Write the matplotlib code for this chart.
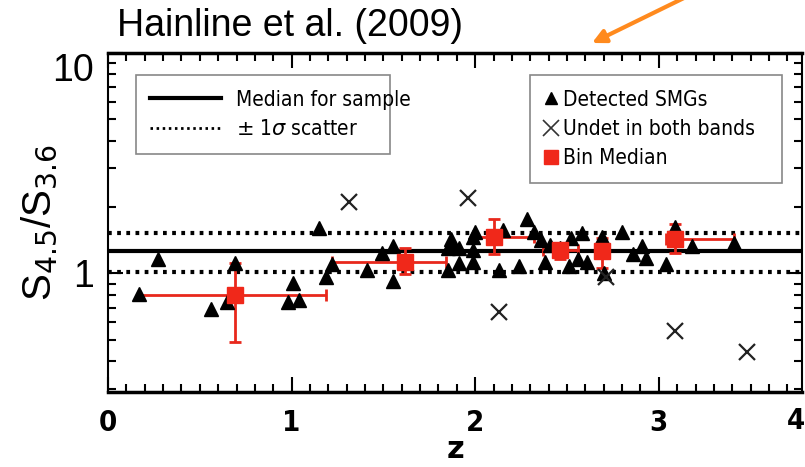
import matplotlib
matplotlib.use("Agg")
from matplotlib import pyplot as plt
from matplotlib.lines import Line2D
from matplotlib.ticker import MultipleLocator, LogLocator, NullFormatter, FixedLocator
import numpy as np

# detected SMGs (triangles)
det_z = [0.17, 0.27, 0.56, 0.65, 0.69, 0.98, 1.01, 1.04, 1.15, 1.19, 1.22, 1.41, 1.49, 1.55, 1.55,
         1.85, 1.85, 1.87, 1.88, 1.91, 1.91, 1.99, 1.99, 1.99, 2.00, 2.13, 2.15, 2.24, 2.28, 2.32,
         2.36, 2.38, 2.41, 2.46, 2.51, 2.52, 2.56, 2.58, 2.61, 2.69, 2.70, 2.80, 2.86, 2.91, 2.93,
         3.04, 3.09, 3.18, 3.41]
det_ratio = [0.81, 1.16, 0.69, 0.74, 1.12, 0.74, 0.91, 0.76, 1.61, 0.96, 1.10, 1.04, 1.24, 1.33, 0.92,
             1.31, 1.04, 1.43, 1.33, 1.31, 1.12, 1.47, 1.28, 1.13, 1.55, 1.04, 1.58, 1.08, 1.76, 1.55,
             1.42, 1.13, 1.35, 1.30, 1.08, 1.45, 1.16, 1.53, 1.13, 1.47, 1.01, 1.55, 1.22, 1.33, 1.18,
             1.10, 1.63, 1.33, 1.38]

# undetected in both bands (crosses)
undet_z = [1.31, 1.96, 2.13, 2.71, 3.09, 3.48]
undet_ratio = [2.12, 2.21, 0.67, 0.96, 0.55, 0.44]

# bin medians with ranges
bin_z = [0.69, 1.62, 2.10, 2.46, 2.69, 3.09]
bin_ratio = [0.80, 1.13, 1.47, 1.28, 1.26, 1.43]
bin_z_lo = [0.17, 1.22, 1.99, 2.37, 2.67, 3.04]
bin_z_hi = [1.19, 1.84, 2.32, 2.56, 2.72, 3.41]
bin_ratio_lo = [0.49, 0.99, 1.22, 1.16, 1.06, 1.24]
bin_ratio_hi = [1.12, 1.31, 1.76, 1.35, 1.45, 1.67]

median_ratio = 1.27
scatter_lo = 1.02
scatter_hi = 1.53

NARROW = ["Liberation Sans Narrow", "DejaVu Sans"]

W, H = 805, 467
fig = plt.figure(figsize=(W / 100, H / 100), dpi=100)
ax = fig.add_axes([108 / W, 1 - 392 / H, 694 / W, 339 / H])

ax.set_yscale("log")
ax.set_xlim(0, 3.78)
ax.set_ylim(0.29, 10)

# median and scatter lines
ax.axhline(median_ratio, color="black", lw=3, zorder=2)
for v in (scatter_lo, scatter_hi):
    ax.axhline(v, color="black", lw=3, ls=(0, (0.9, 1.3)), zorder=2)

# bin medians
bz = np.array(bin_z)
br = np.array(bin_ratio)
xerr = [bz - np.array(bin_z_lo), np.array(bin_z_hi) - bz]
yerr = [br - np.array(bin_ratio_lo), np.array(bin_ratio_hi) - br]
ax.errorbar(bz, br, xerr=xerr, yerr=yerr, fmt="none", ecolor="#e8281c",
            elinewidth=2, capsize=4, capthick=2, zorder=3)

ax.plot(det_z, det_ratio, "^", color="black", ms=10, mec="black", zorder=4)
ax.plot(undet_z, undet_ratio, "x", color="#222222", ms=11, mew=1.6, zorder=4)
ax.plot(bz, br, "s", color="#f0281a", ms=12, zorder=5)

# ticks
ax.xaxis.set_major_locator(FixedLocator([0, 1, 2, 3]))
ax.xaxis.set_minor_locator(MultipleLocator(0.1))
ax.yaxis.set_minor_locator(LogLocator(base=10, subs=np.arange(2, 10)))
ax.yaxis.set_minor_formatter(NullFormatter())
ax.set_yticks([1, 10])
ax.set_yticklabels(["1", "10"])
ax.tick_params(which="both", direction="in", top=True, right=True, width=1.5)
ax.tick_params(which="major", length=11)
ax.tick_params(which="minor", length=6)
ax.tick_params(axis="x", which="major", pad=12, labelsize=21)
ax.tick_params(axis="y", which="major", pad=10, labelsize=27)
for lab in ax.get_xticklabels():
    lab.set_fontweight("bold")
    lab.set_family(NARROW)
    lab.set_fontstretch("condensed")
for lab in ax.get_yticklabels():
    lab.set_family(["Liberation Sans", "DejaVu Sans"])
ax.get_yticklabels()[1].set_va("top")
ax.text(0.992, -0.085, "4", transform=ax.transAxes, ha="center", va="center",
        fontsize=21, fontweight="bold", family=NARROW, fontstretch="condensed")

for side in ("top", "bottom"):
    ax.spines[side].set_linewidth(2.5)
for side in ("left", "right"):
    ax.spines[side].set_linewidth(1.5)

ax.set_xlabel("z", fontsize=22, fontweight="bold", labelpad=-1)
ax.set_ylabel(r"S$_{4.5}$/S$_{3.6}$", fontsize=29,
              family=["Liberation Sans", "DejaVu Sans"])
ax.yaxis.set_label_coords(-0.07, 0.5)

# legends
leg_font = {"family": NARROW, "size": 15, "stretch": "condensed"}
h1 = [Line2D([], [], color="black", lw=3),
      Line2D([], [], color="black", lw=2, ls=(0, (0.9, 1.3)))]
leg1 = ax.legend(h1, ["Median for sample", r"$\pm$ 1$\sigma$ scatter"],
                 loc="upper left", bbox_to_anchor=(0.040, 0.935, 0.366, 0.0), mode="expand",
                 borderaxespad=0, prop=leg_font, fancybox=False, edgecolor="#888888",
                 framealpha=1, handlelength=3.4, handletextpad=0.7, borderpad=0.7,
                 labelspacing=0.45)
leg1.get_frame().set_linewidth(1.2)
ax.add_artist(leg1)

h2 = [Line2D([], [], ls="", marker="^", color="black", ms=9),
      Line2D([], [], ls="", marker="x", color="#333333", ms=11, mew=1.2),
      Line2D([], [], ls="", marker="s", color="#f0281a", ms=10)]
leg2 = ax.legend(h2, ["Detected SMGs", "Undet in both bands", "Bin Median"],
                 loc="upper left", bbox_to_anchor=(0.608, 0.935, 0.363, 0.0), mode="expand",
                 borderaxespad=0, prop=leg_font, fancybox=False, edgecolor="#888888",
                 framealpha=1, handlelength=0.6, handletextpad=0.3, borderpad=0.7,
                 labelspacing=0.45)
leg2.get_frame().set_linewidth(1.2)

# title and arrow
fig.text(117 / W, 1 - 26 / H, "Hainline et al. (2009)", fontsize=27,
         family=["Liberation Sans", "DejaVu Sans"], ha="left", va="center")
ax.annotate("", xy=(592 / W, 1 - 43 / H), xycoords="figure fraction",
            xytext=(688 / W, 1 + 4 / H), textcoords="figure fraction",
            arrowprops=dict(arrowstyle="-|>", color="#ff8a1e", lw=3,
                            mutation_scale=20, shrinkA=0, shrinkB=0),
            annotation_clip=False)

fig.savefig("out.png", dpi=100)
